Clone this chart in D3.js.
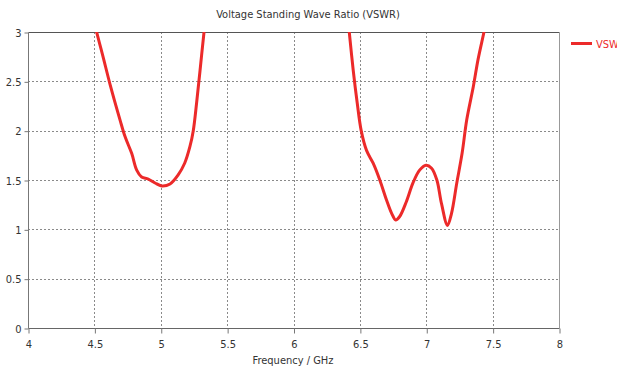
<!DOCTYPE html>
<html>
<head>
<meta charset="utf-8">
<script src="https://cdn.jsdelivr.net/npm/d3@7"></script>
<style>
  body { margin: 0; background: #fff; }
  text { font-family: "DejaVu Sans Condensed", "Liberation Sans Narrow", sans-serif; }
</style>
</head>
<body>
<div id="chart"></div>
<script>
(() => {
"use strict";

const WIDTH = 617, HEIGHT = 369;
const margin = { left: 28, right: 58, top: 32, bottom: 41 };

const xTicks = [4, 4.5, 5, 5.5, 6, 6.5, 7, 7.5, 8];
const yTicks = [0, 0.5, 1, 1.5, 2, 2.5, 3];

// low band
const freqLow = [4.50, 4.517, 4.567, 4.618, 4.693, 4.731, 4.781, 4.819, 4.856, 4.906, 4.957, 5.007, 5.07, 5.13, 5.18, 5.22, 5.245, 5.27, 5.296, 5.326, 5.34];
const vswrLow = [3.10, 3.0, 2.74, 2.47, 2.11, 1.94, 1.77, 1.60, 1.53, 1.51, 1.47, 1.44, 1.46, 1.55, 1.67, 1.84, 2.0, 2.28, 2.61, 3.0, 3.15];

// high band
const freqHigh = [6.41, 6.42, 6.45, 6.48, 6.51, 6.55, 6.60, 6.65, 6.70, 6.74, 6.77, 6.80, 6.85, 6.90, 6.95, 6.998, 7.04, 7.08, 7.115, 7.16, 7.19, 7.23, 7.27, 7.305, 7.355, 7.39, 7.435, 7.45];
const vswrHigh = [3.12, 3.0, 2.61, 2.28, 2.0, 1.80, 1.67, 1.50, 1.30, 1.16, 1.095, 1.13, 1.28, 1.47, 1.60, 1.65, 1.62, 1.50, 1.26, 1.04, 1.16, 1.47, 1.77, 2.11, 2.45, 2.72, 3.0, 3.1];

const lineColor = "#ec2a2a";

let svg = d3.select("#chart").append("svg")
  .attr("width", WIDTH)
  .attr("height", HEIGHT);

let x = d3.scaleLinear().domain([4, 8]).range([margin.left, WIDTH - margin.right]);
let y = d3.scaleLinear().domain([0, 3]).range([HEIGHT - margin.bottom, margin.top]);

svg.append("clipPath").attr("id", "plot")
  .append("rect")
  .attr("x", x(4)).attr("y", y(3))
  .attr("width", x(8) - x(4)).attr("height", y(0) - y(3));

// grid
svg.append("g")
  .selectAll("line")
  .data(xTicks.slice(1, -1))
  .join("line")
  .attr("x1", d => Math.round(x(d)) + 0.5).attr("x2", d => Math.round(x(d)) + 0.5)
  .attr("y1", y(3)).attr("y2", y(0))
  .attr("stroke", "#8a8a8a")
  .attr("stroke-dasharray", "2,2");

svg.append("g")
  .selectAll("line")
  .data(yTicks.slice(1, -1))
  .join("line")
  .attr("x1", x(4)).attr("x2", x(8))
  .attr("y1", d => Math.round(y(d)) + 0.5).attr("y2", d => Math.round(y(d)) + 0.5)
  .attr("stroke", "#8a8a8a")
  .attr("stroke-dasharray", "2,2");

// frame
const fx0 = Math.round(x(4)) + 0.5, fx1 = Math.round(x(8)) + 0.5;
const fy0 = Math.round(y(3)) + 0.5, fy1 = Math.round(y(0)) + 0.5;
svg.append("line").attr("x1", fx0).attr("x2", fx1).attr("y1", fy0).attr("y2", fy0).attr("stroke", "#555");
svg.append("line").attr("x1", fx0).attr("x2", fx1).attr("y1", fy1).attr("y2", fy1).attr("stroke", "#666");
svg.append("line").attr("x1", fx0).attr("x2", fx0).attr("y1", fy0).attr("y2", fy1).attr("stroke", "#777");
svg.append("line").attr("x1", fx1).attr("x2", fx1).attr("y1", fy0).attr("y2", fy1).attr("stroke", "#999");

// axes
let xAxis = svg.append("g")
  .attr("transform", `translate(0.5,${fy1})`)
  .call(d3.axisBottom(x).tickValues(xTicks).tickSize(5).tickSizeOuter(0).tickFormat(d3.format("")));
let yAxis = svg.append("g")
  .attr("transform", `translate(${fx0},0.5)`)
  .call(d3.axisLeft(y).tickValues(yTicks).tickSize(4).tickSizeOuter(0).tickFormat(d3.format("")));

[xAxis, yAxis].forEach(a => {
  a.select(".domain").remove();
  a.selectAll(".tick line").attr("stroke", "#777");
  a.selectAll(".tick text").attr("fill", "#333").style("font-size", "11px")
    .style("font-family", '"DejaVu Sans Condensed", sans-serif');
});
xAxis.selectAll(".tick text").attr("dy", "1.0em");

// curves
let line = d3.line()
  .x(d => x(d[0]))
  .y(d => y(d[1]))
  .curve(d3.curveCatmullRom);

let plot = svg.append("g").attr("clip-path", "url(#plot)");
[[freqLow, vswrLow], [freqHigh, vswrHigh]].forEach(([f, v]) => {
  plot.append("path")
    .datum(f.map((d, i) => [d, v[i]]))
    .attr("fill", "none")
    .attr("stroke", lineColor)
    .attr("stroke-width", 3)
    .attr("stroke-linejoin", "round")
    .attr("d", line);
});

// titles
svg.append("text")
  .attr("x", 308).attr("y", 18)
  .attr("text-anchor", "middle")
  .attr("fill", "#333")
  .style("font-size", "11px")
  .text("Voltage Standing Wave Ratio (VSWR)");

svg.append("text")
  .attr("x", 293).attr("y", 364)
  .attr("text-anchor", "middle")
  .attr("fill", "#333")
  .style("font-size", "11px")
  .text("Frequency / GHz");

// legend
svg.append("line")
  .attr("x1", 571).attr("x2", 592)
  .attr("y1", 43.5).attr("y2", 43.5)
  .attr("stroke", lineColor)
  .attr("stroke-width", 3);
svg.append("text")
  .attr("x", 596).attr("y", 47.5)
  .attr("fill", lineColor)
  .style("font-size", "11px")
  .text("VSWR");
})();
</script>
</body>
</html>
